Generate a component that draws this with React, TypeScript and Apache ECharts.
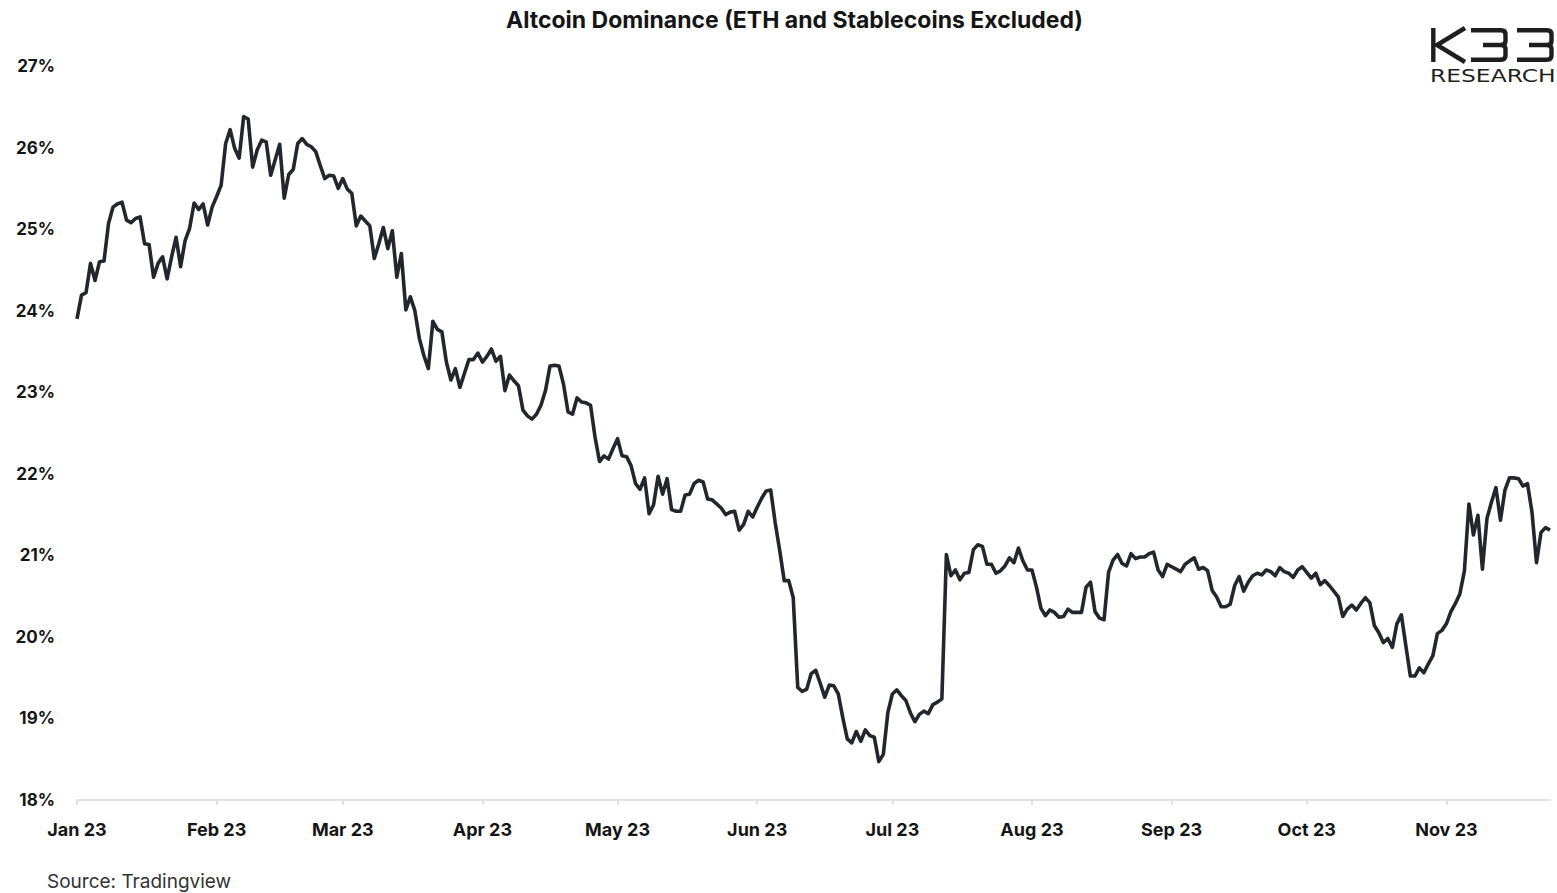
import React, { useEffect, useRef } from "react";
import * as echarts from "echarts";

// Daily Altcoin dominance (%), ETH and stablecoins excluded, 2023
const jan = [23.90, 24.19, 24.22, 24.58, 24.37, 24.60, 24.61, 25.07, 25.27, 25.31, 25.33, 25.11, 25.08, 25.13, 25.15, 24.82, 24.81, 24.41, 24.58, 24.66, 24.39, 24.66, 24.90, 24.54, 24.86, 25.01, 25.32, 25.24, 25.31, 25.05, 25.27];
const feb = [25.40, 25.54, 26.05, 26.22, 25.99, 25.87, 26.38, 26.35, 25.76, 25.97, 26.09, 26.07, 25.66, 25.85, 26.04, 25.38, 25.67, 25.73, 26.05, 26.11, 26.04, 26.01, 25.95, 25.78, 25.62, 25.66, 25.65, 25.50];
const mar = [25.62, 25.49, 25.44, 25.04, 25.16, 25.10, 25.04, 24.64, 24.82, 25.02, 24.76, 24.98, 24.41, 24.70, 24.01, 24.17, 24.00, 23.66, 23.45, 23.29, 23.87, 23.77, 23.74, 23.37, 23.15, 23.29, 23.06, 23.23, 23.40, 23.40, 23.48];
const apr = [23.37, 23.44, 23.53, 23.38, 23.44, 23.02, 23.21, 23.14, 23.08, 22.78, 22.71, 22.67, 22.73, 22.84, 23.02, 23.32, 23.33, 23.32, 23.10, 22.76, 22.73, 22.93, 22.88, 22.87, 22.84, 22.45, 22.15, 22.22, 22.18, 22.31];
const may = [22.43, 22.22, 22.21, 22.10, 21.88, 21.81, 21.95, 21.51, 21.62, 21.97, 21.75, 21.94, 21.56, 21.54, 21.54, 21.74, 21.75, 21.88, 21.92, 21.90, 21.69, 21.68, 21.63, 21.58, 21.50, 21.53, 21.54, 21.31, 21.38, 21.54, 21.47];
const jun = [21.59, 21.70, 21.79, 21.80, 21.40, 21.06, 20.69, 20.69, 20.48, 19.38, 19.33, 19.36, 19.55, 19.59, 19.43, 19.26, 19.41, 19.40, 19.30, 19.01, 18.75, 18.70, 18.84, 18.72, 18.86, 18.79, 18.77, 18.47, 18.56, 19.07];
const jul = [19.30, 19.35, 19.28, 19.22, 19.07, 18.96, 19.05, 19.09, 19.06, 19.17, 19.20, 19.24, 21.01, 20.75, 20.82, 20.70, 20.78, 20.79, 21.07, 21.13, 21.11, 20.89, 20.89, 20.78, 20.81, 20.87, 20.97, 20.91, 21.09, 20.93, 20.82];
const aug = [20.82, 20.61, 20.35, 20.26, 20.33, 20.30, 20.24, 20.25, 20.34, 20.30, 20.30, 20.30, 20.61, 20.67, 20.31, 20.23, 20.21, 20.79, 20.94, 21.01, 20.90, 20.87, 21.02, 20.96, 20.98, 20.98, 21.02, 21.04, 20.82, 20.74, 20.89];
const sep = [20.86, 20.83, 20.80, 20.89, 20.93, 20.97, 20.83, 20.85, 20.81, 20.57, 20.49, 20.37, 20.37, 20.40, 20.63, 20.74, 20.56, 20.67, 20.75, 20.78, 20.76, 20.82, 20.80, 20.75, 20.85, 20.80, 20.78, 20.73, 20.82, 20.86];
const oct = [20.79, 20.72, 20.78, 20.64, 20.69, 20.63, 20.56, 20.49, 20.25, 20.34, 20.39, 20.33, 20.41, 20.48, 20.42, 20.14, 20.05, 19.93, 19.98, 19.87, 20.16, 20.27, 19.89, 19.52, 19.52, 19.62, 19.56, 19.67, 19.77, 20.04, 20.08];
const nov = [20.16, 20.31, 20.41, 20.53, 20.81, 21.63, 21.25, 21.49, 20.83, 21.45, 21.65, 21.83, 21.43, 21.80, 21.95, 21.95, 21.94, 21.85, 21.88, 21.53, 20.91, 21.28, 21.34, 21.31];

const startDate = "2023-01-01";
const monthLabels = ["Jan 23", "Feb 23", "Mar 23", "Apr 23", "May 23", "Jun 23", "Jul 23", "Aug 23", "Sep 23", "Oct 23", "Nov 23", "Dec 23"];
const yMin = 18;
const yMax = 27;

const TITLE = "Altcoin Dominance (ETH and Stablecoins Excluded)";
const SOURCE = "Source: Tradingview";

const values = [...jan, ...feb, ...mar, ...apr, ...may, ...jun, ...jul, ...aug, ...sep, ...oct, ...nov];
const t0 = Date.parse(startDate + "T00:00:00Z");
const dates = values.map((_, i) => new Date(t0 + i * 86400000).toISOString().slice(0, 10));

const LOGO_D =
  "M2.3 0 V34 M34 0 L6 17 L34 34 " +
  "M40 2.3 H70 Q74.5 2.3 74.5 6.5 V13 Q74.5 17 70 17 H52 M70 17 Q74.5 17 74.5 21 V27.5 Q74.5 31.7 70 31.7 H40 " +
  "M86 2.3 H116 Q120.5 2.3 120.5 6.5 V13 Q120.5 17 116 17 H98 M116 17 Q120.5 17 120.5 21 V27.5 Q120.5 31.7 116 31.7 H86";

let registered = false;

export default function App() {
  const ref = useRef<HTMLDivElement>(null);
  useEffect(() => {
    if (!ref.current) return;
    if (!registered) {
      echarts.graphic.registerShape("logo", echarts.graphic.extendPath(LOGO_D, {}));
      registered = true;
    }
    const chart = echarts.init(ref.current, null, { renderer: "svg" });
    const isMonthStart = (_i: number, v: string) => v.slice(8, 10) === "01";
    chart.setOption({
      animation: false,
      backgroundColor: "#ffffff",
      title: {
        text: TITLE,
        left: 501,
        top: 3,
        textStyle: { fontFamily: "Inter", fontWeight: "bold", fontSize: 23, color: "#151515" },
      },
      grid: { left: 77, right: 7, top: 66, bottom: 93, containLabel: false },
      xAxis: {
        type: "category",
        data: dates,
        boundaryGap: false,
        axisLine: { show: true, lineStyle: { color: "#d5d9df", width: 1.5 } },
        axisTick: { show: true, interval: isMonthStart, length: 5, lineStyle: { color: "#d5d9df", width: 1.5 } },
        axisLabel: {
          interval: isMonthStart,
          margin: 20,
          fontFamily: "Inter",
          fontWeight: "bold",
          fontSize: 18,
          color: "#151515",
          formatter: (v: string) => monthLabels[parseInt(v.slice(5, 7), 10) - 1],
        },
        splitLine: { show: false },
      },
      yAxis: {
        type: "value",
        min: yMin,
        max: yMax,
        interval: 1,
        axisLine: { show: false },
        axisTick: { show: false },
        splitLine: { show: false },
        axisLabel: {
          margin: 22,
          fontFamily: "Inter",
          fontWeight: "bold",
          fontSize: 17,
          color: "#151515",
          formatter: "{value}%",
        },
      },
      series: [
        {
          type: "line",
          data: values,
          showSymbol: false,
          symbol: "none",
          lineStyle: { color: "#23272d", width: 3.6, join: "round" },
        },
      ],
      graphic: [
        {
          type: "logo",
          x: 1431,
          y: 28,
          style: { fill: "none", stroke: "#1e1e1e", lineWidth: 4.4, lineJoin: "miter", lineCap: "butt" },
        },
        {
          type: "text",
          x: 1430,
          y: 67,
          scaleX: 1.3,
          style: {
            text: "RESEARCH",
            fontFamily: "DejaVu Sans",
            fontSize: 18,
            fontWeight: "normal",
            fill: "#1e1e1e",
            textVerticalAlign: "top",
          },
        },
        {
          type: "text",
          left: 47,
          top: 872,
          style: {
            text: SOURCE,
            fontFamily: "Inter",
            fontSize: 19,
            fill: "#333333",
          },
        },
      ],
    });
    return () => chart.dispose();
  }, []);
  return (
    <div
      ref={ref}
      style={{ position: "absolute", left: 0, top: 0, width: 1557, height: 893, background: "#fff" }}
    />
  );
}
